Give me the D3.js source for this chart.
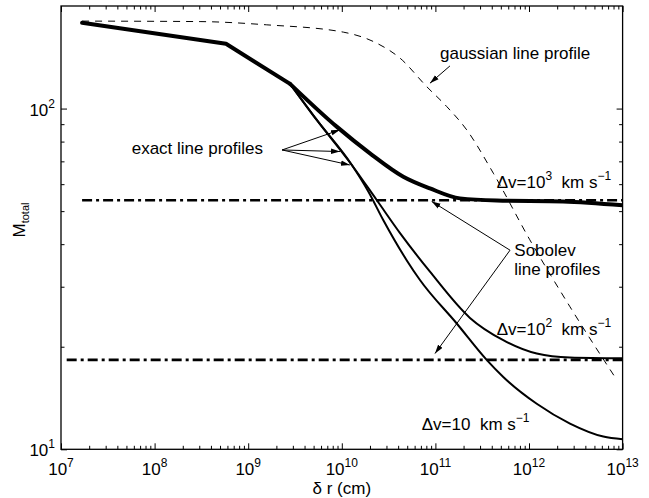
<!DOCTYPE html>
<html>
<head>
<meta charset="utf-8">
<script src="https://cdn.jsdelivr.net/npm/d3@7"></script>
<style>
body { margin: 0; background: #fff; }
svg { font-family: "Liberation Sans", Arial, Helvetica, sans-serif; }
</style>
</head>
<body>
<svg width="649" height="498"></svg>
<script>
// values: delta r (cm) against M_total
var drV3 = [1.68e7, 5.79e8, 2.80e9, 8.82e9, 2.0e10, 4.54e10, 8.75e10, 1.83e11, 4.52e11, 2.31e12, 1e13];
var mV3  = [178.5, 154.9, 118.2, 88.5, 73.9, 63.1, 58.3, 54.5, 53.7, 53.4, 52.0];

var drV2 = [1.68e7, 5.79e8, 2.80e9, 5.40e9, 1.28e10, 2.36e10, 4.19e10, 8.75e10, 2.34e11, 5.31e11, 1.21e12, 2.74e12, 1e13];
var mV2  = [178.5, 154.9, 118.2, 92.6, 68.3, 53.9, 43.1, 33.2, 24.3, 20.9, 19.1, 18.6, 18.5];

var drV1 = [1.68e7, 5.79e8, 2.80e9, 5.40e9, 1.28e10, 1.92e10, 2.77e10, 4.93e10, 6.84e10, 1.69e11, 3.53e11, 5.31e11, 1.21e12, 2.74e12, 6.22e12, 1e13];
var mV1  = [178.5, 154.9, 118.2, 92.6, 68.3, 57.1, 47.1, 35.9, 31.4, 23.4, 18.3, 16.3, 13.6, 11.9, 10.9, 10.7];

var drGauss = [1.68e7, 3.06e8, 1.58e9, 1.04e10, 2.36e10, 4.19e10, 8.07e10, 1.32e11, 2.16e11, 4.16e11, 1.02e12, 2.74e12, 8.65e12];
var mGauss  = [180.6, 180.0, 176.1, 167.6, 155.6, 140.6, 116.0, 101.4, 86.6, 64.6, 41.2, 26.2, 16.0];

// Sobolev levels (flat lines)
var sobolevLevels = [53.8, 18.3];
var sobolevStart = [1.68e7, 1.15e7];

var xMajor = [1e7, 1e8, 1e9, 1e10, 1e11, 1e12, 1e13];
var yMajor = [10, 100];

// annotation arrows: [x0, y0, x1, y1] in data units
var exactArrows = [
  [2.30e9, 75.6, 9.57e9, 86.6],
  [2.30e9, 75.6, 9.57e9, 74.8],
  [2.30e9, 75.6, 1.22e10, 68.3]
];
var gaussArrow = [1.43e11, 133.4, 8.75e10, 118.7];
var sobolevArrows = [
  [6.27e11, 38.4, 9.12e10, 53.4],
  [6.27e11, 38.4, 9.9e10, 19.1]
];

var svg = d3.select('svg');
var margin = {top: 6, right: 26.4, bottom: 48.7, left: 61};
var width = +svg.attr('width') - margin.left - margin.right;
var height = +svg.attr('height') - margin.top - margin.bottom;
var g = svg.append('g')
  .attr('transform', 'translate(' + margin.left + ',' + margin.top + ')');

var x = d3.scaleLog().domain([1e7, 1e13]).range([0, width]);
var y = d3.scaleLog().domain([10, 200]).range([height, 0]);

var xMinor = [];
for (var d = 7; d < 13; d++) {
  for (var k = 2; k < 10; k++) xMinor.push(k * Math.pow(10, d));
}
var yMinor = [20, 30, 40, 50, 60, 70, 80, 90];

var defs = svg.append('defs');
defs.append('marker')
  .attr('id', 'head')
  .attr('markerUnits', 'userSpaceOnUse')
  .attr('viewBox', '0 0 10 6')
  .attr('refX', 10).attr('refY', 3)
  .attr('markerWidth', 9).attr('markerHeight', 6)
  .attr('orient', 'auto')
  .append('path').attr('d', 'M0,0L10,3L0,6Z').attr('fill', '#000');
defs.append('clipPath').attr('id', 'clip')
  .append('rect').attr('width', width).attr('height', height);

// ticks on all four sides, pointing inward
function ticks(axis, vals, size, tr) {
  var a = g.append('g').attr('class', 'axis').attr('transform', tr)
    .call(axis.tickValues(vals).tickSize(size).tickSizeOuter(0).tickFormat(''));
  a.select('.domain').remove();
  a.selectAll('line').attr('stroke', '#000').attr('stroke-width', 1);
}
ticks(d3.axisBottom(x), xMajor, -6, 'translate(0,' + height + ')');
ticks(d3.axisBottom(x), xMinor, -3.5, 'translate(0,' + height + ')');
ticks(d3.axisTop(x), xMajor, -6, 'translate(0,0)');
ticks(d3.axisTop(x), xMinor, -3.5, 'translate(0,0)');
ticks(d3.axisLeft(y), yMajor, -6, 'translate(0,0)');
ticks(d3.axisLeft(y), yMinor, -3.5, 'translate(0,0)');
ticks(d3.axisRight(y), yMajor, -6, 'translate(' + width + ',0)');
ticks(d3.axisRight(y), yMinor, -3.5, 'translate(' + width + ',0)');

var plot = g.append('g').attr('clip-path', 'url(#clip)');

var straight = d3.line()
  .x(function(p) { return x(p[0]); })
  .y(function(p) { return y(p[1]); });
var smooth = d3.line()
  .x(function(p) { return x(p[0]); })
  .y(function(p) { return y(p[1]); })
  .curve(d3.curveMonotoneX);

function zip(a, b) { return a.map(function(v, i) { return [v, b[i]]; }); }

// exact profiles: straight segments up to the 2.8e9 kink, smooth after it
function profile(xs, ys, w) {
  var pts = zip(xs, ys);
  [straight(pts.slice(0, 3)), smooth(pts.slice(2))].forEach(function(dd) {
    plot.append('path').attr('d', dd).attr('fill', 'none')
      .attr('stroke', '#000').attr('stroke-width', w)
      .attr('stroke-linejoin', 'round').attr('stroke-linecap', 'round');
  });
}

plot.append('path').datum(zip(drGauss, mGauss))
  .attr('d', smooth).attr('fill', 'none').attr('stroke', '#000')
  .attr('stroke-width', 1).attr('stroke-dasharray', '7,6');

plot.selectAll('.sob').data(sobolevLevels).enter().append('line')
  .attr('x1', function(v, i) { return x(sobolevStart[i]); })
  .attr('x2', x(1e13))
  .attr('y1', function(v) { return y(v); })
  .attr('y2', function(v) { return y(v); })
  .attr('stroke', '#000').attr('stroke-width', 2.6)
  .attr('stroke-dasharray', '10,4,3,4');

profile(drV1, mV1, 2);
profile(drV2, mV2, 2);
profile(drV3, mV3, 4);

// frame
g.append('rect').attr('width', width).attr('height', height)
  .attr('fill', 'none').attr('stroke', '#000').attr('stroke-width', 1.3);

// arrows
var arrows = exactArrows.concat([gaussArrow]).concat(sobolevArrows);
g.selectAll('.arrow').data(arrows).enter().append('line')
  .attr('x1', function(a) { return x(a[0]); })
  .attr('y1', function(a) { return y(a[1]); })
  .attr('x2', function(a) { return x(a[2]); })
  .attr('y2', function(a) { return y(a[3]); })
  .attr('stroke', '#000').attr('stroke-width', 1)
  .attr('marker-end', 'url(#head)');

// tick labels 10^n
function pow10(sel) {
  sel.append('tspan').text('10');
  sel.append('tspan').attr('font-size', 12).attr('dy', -8)
    .text(function(d) { return Math.round(Math.log10(d)); });
}
g.selectAll('.xl').data(xMajor).enter().append('text')
  .attr('x', function(d) { return x(d); })
  .attr('y', height + 26)
  .attr('text-anchor', 'middle').attr('font-size', 17)
  .call(pow10);
g.selectAll('.yl').data(yMajor).enter().append('text')
  .attr('x', -6)
  .attr('y', function(d) { return y(d) + 7; })
  .attr('text-anchor', 'end').attr('font-size', 17)
  .call(pow10);

// axis titles
g.append('text').attr('x', x(1e10)).attr('y', height + 45)
  .attr('text-anchor', 'middle').attr('font-size', 17).text('\u03b4 r (cm)');
var yt = svg.append('text').attr('transform', 'translate(25,220) rotate(-90)')
  .attr('text-anchor', 'middle').attr('font-size', 17);
yt.append('tspan').text('M');
yt.append('tspan').attr('font-size', 11).attr('dy', 4).text('total');

// in-plot labels; parts are [text, dy, font size]
function label(xv, yv, parts) {
  var t = g.append('text').attr('x', x(xv)).attr('y', y(yv)).attr('font-size', 17);
  parts.forEach(function(p) {
    var s = t.append('tspan').text(p[0]);
    if (p[1]) s.attr('dy', p[1]);
    if (p[2]) s.attr('font-size', p[2]);
  });
  return t;
}
label(5.69e7, 73.5, [['exact line profiles']]);
label(1.12e11, 139.7, [['gaussian line profile']]);
label(4.52e11, 58.4, [['\u0394v=10'], ['3', -8, 12], ['\u00a0\u00a0km s', 8], ['\u22121', -8, 12]]);
label(4.52e11, 21.7, [['\u0394v=10'], ['2', -8, 12], ['\u00a0\u00a0km s', 8], ['\u22121', -8, 12]]);
label(7.15e10, 11.4, [['\u0394v=10\u00a0\u00a0km s'], ['\u22121', -8, 12]]);
label(6.97e11, 36.8, [['Sobolev']]);
label(6.97e11, 32.5, [['line profiles']]);
</script>
</body>
</html>
